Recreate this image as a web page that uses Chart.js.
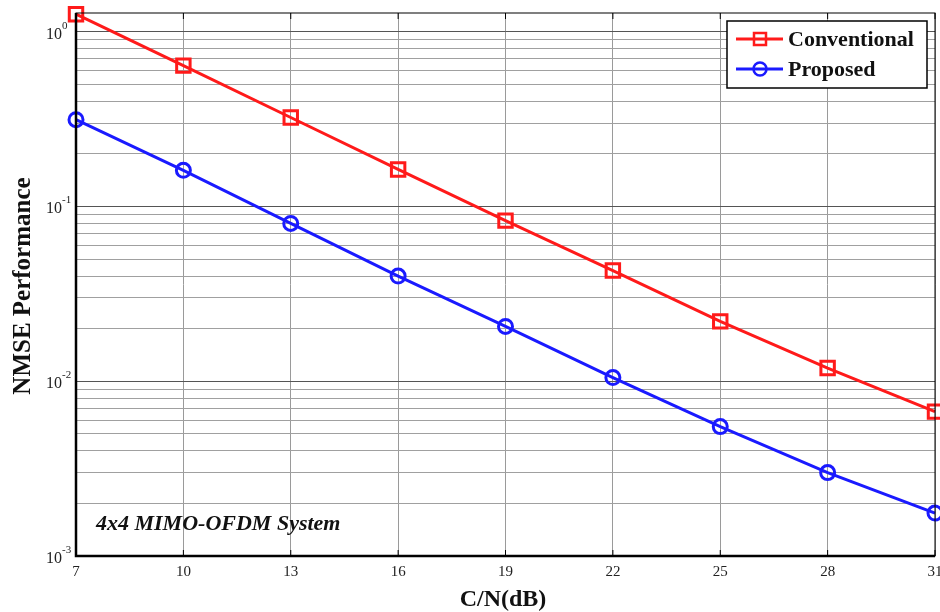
<!DOCTYPE html>
<html>
<head>
<meta charset="utf-8">
<script src="https://cdn.jsdelivr.net/npm/chart.js@4/dist/chart.umd.min.js"></script>
<style>
  html, body { margin: 0; padding: 0; background: #fff; }
  #wrap { width: 940px; height: 612px; position: relative; }
</style>
</head>
<body>
<div id="wrap"><canvas id="c"></canvas></div>
<script>
// C/N (dB) points
const cnDb = [7, 10, 13, 16, 19, 22, 25, 28, 31];
const xTicks = [7, 10, 13, 16, 19, 22, 25, 28, 31];
// NMSE values
const conventional = [1.26, 0.64, 0.323, 0.163, 0.083, 0.043, 0.022, 0.0119, 0.0067];
const proposed = [0.314, 0.161, 0.080, 0.040, 0.0206, 0.0105, 0.0055, 0.0030, 0.00176];
const decades = [-3, -2, -1, 0];
const seriesNames = ["Conventional", "Proposed"];
const seriesColors = ["#ff1a1a", "#1a1aff"];

const SERIF = "'Liberation Serif', 'DejaVu Serif', serif";

// matlab style labels, legend, titles
const decorPlugin = {
  id: "decor",
  afterDraw(chart) {
    const ctx = chart.ctx;
    const area = chart.chartArea;
    const xs = chart.scales.x, ys = chart.scales.y;
    ctx.save();

    // frame
    ctx.strokeStyle = "#000";
    ctx.lineWidth = 1;
    ctx.strokeRect(area.left, area.top, area.right - area.left, area.bottom - area.top);
    ctx.lineWidth = 2.5;
    ctx.beginPath();
    ctx.moveTo(area.left, area.top);
    ctx.lineTo(area.left, area.bottom);
    ctx.lineTo(area.right, area.bottom);
    ctx.stroke();

    // small inner ticks
    ctx.lineWidth = 1;
    xTicks.forEach(v => {
      const px = xs.getPixelForValue(v);
      ctx.beginPath();
      ctx.moveTo(px, area.bottom); ctx.lineTo(px, area.bottom - 6);
      ctx.moveTo(px, area.top); ctx.lineTo(px, area.top + 6);
      ctx.stroke();
    });

    // y labels 10^n
    ctx.fillStyle = "#222";
    ctx.textBaseline = "alphabetic";
    decades.forEach(d => {
      const py = ys.getPixelForValue(Math.pow(10, d));
      ctx.font = "16px " + SERIF;
      ctx.textAlign = "right";
      ctx.fillText("10", 62, py + 7);
      ctx.font = "11px " + SERIF;
      ctx.textAlign = "left";
      ctx.fillText(String(d), 62, py - 3);
    });

    // x labels
    ctx.font = "15px " + SERIF;
    ctx.textAlign = "center";
    xTicks.forEach(v => {
      ctx.fillText(String(v), xs.getPixelForValue(v), 576);
    });

    // axis titles
    ctx.fillStyle = "#111";
    ctx.font = "bold 24px " + SERIF;
    ctx.fillText("C/N(dB)", 503, 606);
    ctx.save();
    ctx.translate(30, 286);
    ctx.rotate(-Math.PI / 2);
    ctx.font = "bold 25px " + SERIF;
    ctx.fillText("NMSE Performance", 0, 0);
    ctx.restore();

    // annotation
    ctx.font = "italic bold 22px " + SERIF;
    ctx.textAlign = "left";
    ctx.fillText("4x4 MIMO-OFDM System", 96, 530);

    // legend
    const lx = 727, ly = 21, lw = 200, lh = 67;
    ctx.fillStyle = "#fff";
    ctx.fillRect(lx, ly, lw, lh);
    ctx.strokeStyle = "#000";
    ctx.lineWidth = 1.5;
    ctx.strokeRect(lx, ly, lw, lh);
    seriesNames.forEach((name, i) => {
      const y = ly + 18 + i * 30;
      ctx.strokeStyle = seriesColors[i];
      ctx.lineWidth = 3;
      ctx.beginPath();
      ctx.moveTo(lx + 9, y); ctx.lineTo(lx + 56, y);
      ctx.stroke();
      ctx.lineWidth = 2.5;
      ctx.beginPath();
      if (i === 0) ctx.rect(lx + 27, y - 6, 12, 12);
      else ctx.arc(lx + 33, y, 6.5, 0, Math.PI * 2);
      ctx.stroke();
      ctx.fillStyle = "#111";
      ctx.font = "bold 22px " + SERIF;
      ctx.textBaseline = "middle";
      ctx.fillText(name, lx + 61, y + 1);
      ctx.textBaseline = "alphabetic";
    });

    ctx.restore();
  }
};

const yGridTicks = [];
decades.forEach(d => {
  for (let m = 1; m <= 9; m++) {
    if (d === 0 && m > 1) break;
    yGridTicks.push(m * Math.pow(10, d));
  }
});

new Chart(document.getElementById("c"), {
  type: "line",
  data: {
    datasets: [
      {
        label: seriesNames[0],
        data: cnDb.map((x, i) => ({ x, y: conventional[i] })),
        borderColor: seriesColors[0],
        borderWidth: 3,
        pointStyle: "rect",
        pointRadius: 9.5,
        pointBorderWidth: 3,
        pointBorderColor: seriesColors[0],
        pointBackgroundColor: "rgba(0,0,0,0)",
        clip: false,
        tension: 0
      },
      {
        label: seriesNames[1],
        data: cnDb.map((x, i) => ({ x, y: proposed[i] })),
        borderColor: seriesColors[1],
        borderWidth: 3,
        pointStyle: "circle",
        pointRadius: 7,
        pointBorderWidth: 3,
        pointBorderColor: seriesColors[1],
        pointBackgroundColor: "rgba(0,0,0,0)",
        clip: false,
        tension: 0
      }
    ]
  },
  options: {
    responsive: true,
    maintainAspectRatio: false,
    animation: false,
    layout: { autoPadding: false, padding: { left: 76, right: 5, top: 13, bottom: 56 } },
    plugins: { legend: { display: false }, tooltip: { enabled: false } },
    scales: {
      x: {
        type: "linear",
        min: 7,
        max: 31,
        afterBuildTicks: s => { s.ticks = xTicks.map(v => ({ value: v })); },
        ticks: { display: false },
        grid: { color: "#9a9a9a", lineWidth: 1, drawTicks: false },
        border: { display: false }
      },
      y: {
        type: "logarithmic",
        min: 0.001,
        max: 1.28,
        afterBuildTicks: s => { s.ticks = yGridTicks.map(v => ({ value: v })); },
        ticks: { display: false },
        grid: {
          color: ctx => {
            const v = ctx.tick ? ctx.tick.value : 0;
            const e = Math.log10(v);
            return Math.abs(e - Math.round(e)) < 1e-6 ? "#555" : "#a0a0a0";
          },
          lineWidth: 1,
          drawTicks: false
        },
        border: { display: false }
      }
    }
  },
  plugins: [decorPlugin]
});
</script>
</body>
</html>
